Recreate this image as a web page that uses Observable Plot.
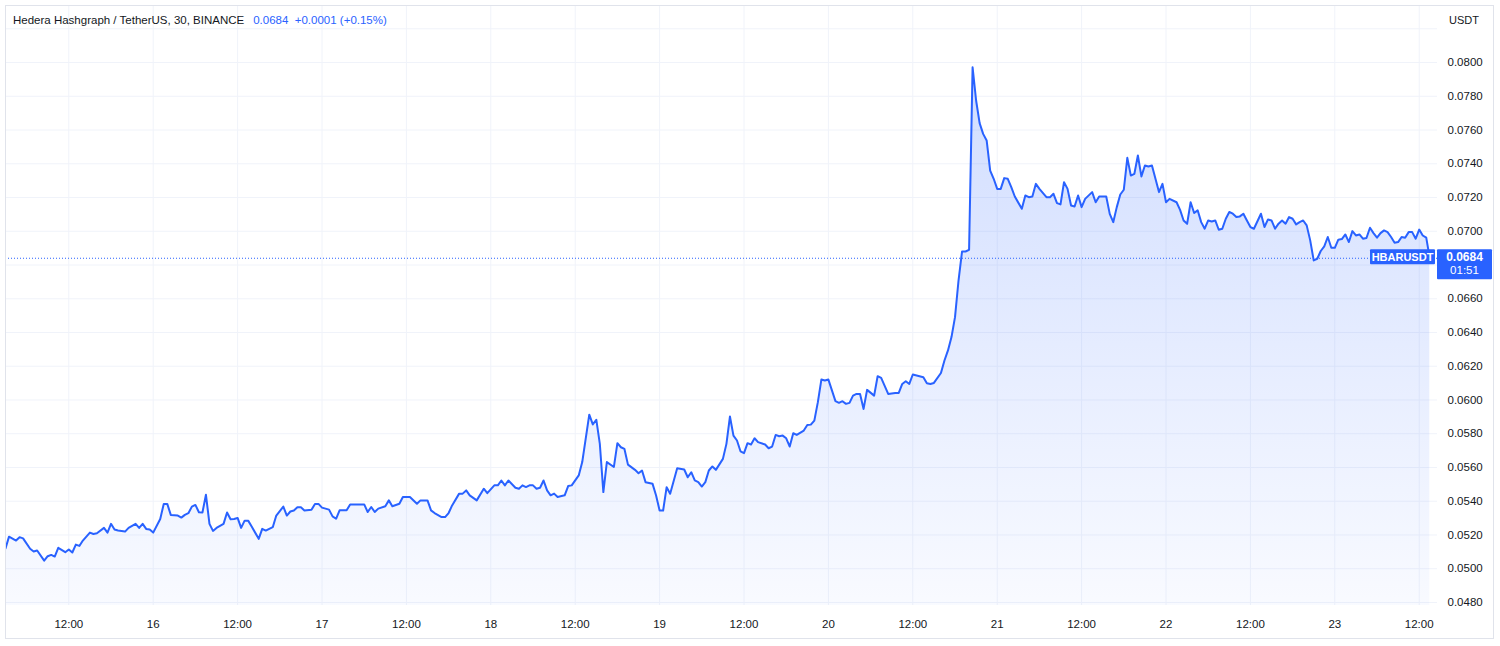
<!DOCTYPE html>
<html>
<head>
<meta charset="utf-8">
<script src="https://cdn.jsdelivr.net/npm/d3@7"></script>
<script src="https://cdn.jsdelivr.net/npm/@observablehq/plot@0.6"></script>
<style>
  html, body { margin: 0; padding: 0; background: #ffffff; }
  #wrap { position: relative; width: 1500px; height: 646px; overflow: hidden; font-family: "Liberation Sans", Arial, sans-serif; }
  #frame { position: absolute; left: 5px; top: 5px; width: 1489px; height: 634px; border: 1px solid #e0e3eb; box-sizing: border-box; pointer-events: none; }
  #title { position: absolute; left: 13px; top: 14px; font-size: 11.5px; color: #131722; white-space: nowrap; }
  #title .v { color: #2962ff; margin-left: 9px; }
  #unit { position: absolute; left: 1449px; top: 14px; font-size: 11px; color: #131722; background: #fff; padding: 0 6px 4px 0; }
</style>
</head>
<body>
<div id="wrap">
  <div id="chart"></div>
  <div id="frame"></div>
  <div id="title"></div>
  <div id="unit"></div>
</div>
<script>
// ---- data (hours after 15th 00:00 UTC, 30-minute closes) ----
const hours = [3.0,3.5,4.5,5.0,5.5,6.5,7.0,7.5,8.5,9.0,9.5,10.0,10.5,11.5,12.0,12.5,13.0,13.5,14.0,15.0,15.5,16.0,17.0,17.5,18.0,18.5,19.0,20.0,20.5,21.5,22.0,22.5,23.0,23.5,24.0,25.0,25.5,26.0,26.5,27.5,28.0,28.5,29.0,29.5,30.0,30.5,31.0,31.5,32.0,32.5,33.0,34.0,34.5,35.0,35.5,36.0,36.5,37.0,37.5,38.0,39.0,39.5,40.0,41.0,41.5,42.5,43.0,43.5,44.0,44.5,45.0,45.5,46.5,47.0,47.5,48.0,49.0,49.5,50.0,50.5,51.5,52.0,53.5,54.0,54.5,55.0,55.5,56.0,57.0,57.5,58.0,59.0,59.5,60.5,61.5,62.0,63.0,63.5,64.0,65.0,65.5,66.0,66.5,67.5,68.0,68.5,69.0,70.0,71.0,71.5,72.5,73.0,73.5,74.0,74.5,75.5,76.0,76.5,77.0,77.5,78.0,78.5,79.0,79.5,80.0,80.5,81.0,81.5,82.5,83.0,83.5,84.5,85.0,86.0,86.5,87.0,87.5,88.0,88.5,89.5,90.0,90.5,91.0,91.5,92.5,93.0,93.5,94.0,95.0,95.5,96.0,96.5,97.0,97.5,98.5,99.5,100.0,100.5,101.0,101.5,102.0,102.5,103.0,103.5,104.0,105.0,105.5,106.0,106.5,107.0,107.5,108.0,108.5,109.0,109.5,110.0,111.0,111.5,112.0,112.5,113.0,113.5,114.0,114.5,115.0,115.5,116.5,117.0,117.5,118.0,118.5,119.0,119.5,120.0,121.0,121.5,122.0,122.5,123.0,123.5,124.0,124.5,125.0,125.5,126.5,127.0,127.5,128.5,129.5,130.0,130.5,131.0,131.5,132.0,133.5,134.0,134.5,135.0,136.0,136.5,137.0,137.5,138.0,138.5,139.0,139.5,140.0,140.5,141.0,141.5,142.0,142.5,143.0,143.5,144.0,144.5,145.0,145.5,146.0,146.5,147.5,148.0,148.5,149.0,149.5,150.0,151.0,151.5,152.0,152.5,153.0,153.5,154.0,154.5,155.0,155.5,156.0,156.5,157.5,158.0,158.5,159.5,160.0,160.5,161.0,161.5,162.0,162.5,163.0,163.5,164.0,164.5,165.0,165.5,166.0,166.5,167.0,167.5,168.0,168.5,169.5,170.0,170.5,171.0,171.5,172.0,172.5,173.0,173.5,174.0,174.5,175.0,175.5,176.0,176.5,177.0,177.5,178.0,178.5,179.0,179.5,180.0,180.5,181.5,182.0,182.5,183.0,183.5,184.0,184.5,185.0,185.5,186.0,186.5,187.0,187.5,188.0,188.5,189.0,189.5,190.0,190.5,191.0,191.5,192.0,192.5,193.0,193.5,194.0,194.5,195.0,195.5,196.0,196.5,197.0,197.5,198.0,198.5,199.0,199.5,200.0,200.5,201.0,201.5,202.0,202.5,203.0,203.5,204.0,204.5,205.0,205.5];
const prices = [0.0512,0.0519,0.05167,0.05187,0.0518,0.05118,0.05102,0.05108,0.05048,0.05074,0.05082,0.05072,0.05124,0.05098,0.05114,0.05096,0.05143,0.05135,0.05167,0.05214,0.05206,0.0521,0.05242,0.05214,0.05266,0.05232,0.05226,0.0522,0.05242,0.05266,0.05242,0.05266,0.05236,0.05232,0.05214,0.05295,0.05384,0.05384,0.05319,0.05315,0.05303,0.05319,0.05329,0.05368,0.05378,0.05335,0.05333,0.05438,0.05266,0.05224,0.05242,0.05266,0.05333,0.05293,0.05295,0.05301,0.05242,0.05285,0.05285,0.0525,0.05177,0.05236,0.05226,0.05246,0.05315,0.05368,0.05315,0.05339,0.05345,0.05364,0.05364,0.05345,0.05349,0.05384,0.05384,0.05362,0.0535,0.0531,0.05296,0.05346,0.05346,0.05381,0.05381,0.05381,0.05336,0.05366,0.05336,0.05356,0.0537,0.05405,0.0537,0.05385,0.05425,0.05425,0.05385,0.05405,0.05405,0.05346,0.0533,0.05306,0.05306,0.0533,0.05375,0.05445,0.05445,0.05464,0.05435,0.05405,0.05474,0.05448,0.05494,0.05494,0.05523,0.05494,0.05523,0.0548,0.05474,0.05494,0.05484,0.05494,0.05494,0.05474,0.0548,0.05523,0.05464,0.05435,0.05445,0.05425,0.05435,0.0549,0.05494,0.05553,0.05632,0.05913,0.05855,0.05883,0.0574,0.05454,0.05632,0.05603,0.05744,0.0572,0.0571,0.05617,0.05586,0.05566,0.05582,0.05513,0.05503,0.05434,0.05345,0.05345,0.05483,0.05444,0.05596,0.05588,0.05542,0.05572,0.05523,0.05513,0.05487,0.05513,0.05582,0.05606,0.05586,0.05651,0.0574,0.05902,0.05789,0.0576,0.05696,0.05685,0.05744,0.05736,0.05773,0.0575,0.05736,0.05714,0.05724,0.05793,0.05785,0.05789,0.05773,0.05724,0.05803,0.05793,0.05819,0.05852,0.05854,0.05878,0.05987,0.06121,0.06115,0.06121,0.05993,0.05983,0.05993,0.05977,0.05983,0.06026,0.06036,0.06036,0.05947,0.0606,0.06026,0.06141,0.06131,0.06036,0.06042,0.06042,0.06095,0.06111,0.06095,0.06151,0.06135,0.06099,0.06095,0.06101,0.0616,0.06234,0.06294,0.06373,0.06491,0.06708,0.0688,0.0688,0.0689,0.07972,0.07775,0.07641,0.07577,0.07538,0.0736,0.07311,0.07251,0.07251,0.07315,0.07311,0.07261,0.07206,0.07133,0.07212,0.07202,0.07206,0.07281,0.07251,0.07202,0.07202,0.07222,0.07167,0.07159,0.07291,0.07251,0.07153,0.07147,0.07212,0.07143,0.07192,0.07232,0.07172,0.07206,0.07206,0.07103,0.07054,0.07143,0.07218,0.07246,0.07435,0.0733,0.0734,0.07449,0.07325,0.0739,0.07384,0.0739,0.07311,0.07232,0.07281,0.07172,0.07192,0.07172,0.07127,0.07064,0.07044,0.07172,0.07108,0.07124,0.07054,0.07015,0.07064,0.07058,0.07064,0.07009,0.07015,0.07074,0.07114,0.07104,0.07084,0.07088,0.07104,0.07064,0.07025,0.07015,0.07104,0.07025,0.0707,0.07064,0.07015,0.07045,0.07064,0.07045,0.07084,0.07074,0.07041,0.07054,0.07064,0.07035,0.06946,0.06827,0.06837,0.06883,0.0691,0.06966,0.06902,0.06902,0.0695,0.06954,0.06981,0.06936,0.07001,0.06975,0.06981,0.06956,0.0696,0.07021,0.06989,0.06962,0.06989,0.07005,0.06995,0.06966,0.06932,0.06936,0.06966,0.06962,0.06995,0.06995,0.06956,0.0701,0.06975,0.06962,0.0684];
const yTicks = [0.048,0.050,0.052,0.054,0.056,0.058,0.060,0.062,0.064,0.066,0.068,0.070,0.072,0.074,0.076,0.078,0.080,0.082];
// 0.0680 is hidden under the last-price tag in the reference
const yLabelTicks = [0.048,0.050,0.052,0.054,0.056,0.058,0.060,0.062,0.064,0.066,0.070,0.072,0.074,0.076,0.078,0.080];
const xTickHours = [12,24,36,48,60,72,84,96,108,120,132,144,156,168,180,192,204];
const symbolName = "Hedera Hashgraph / TetherUS, 30, BINANCE";
const lastText = "0.0684";
const changeText = "+0.0001 (+0.15%)";
const unitText = "USDT";
const tickerText = "HBARUSDT";
const countdownText = "01:51";
const lastPrice = 0.0684;
const xDomainHours = [3.0, 206.6];
const yDomain = [0.04782, 0.08338];

// ---- build ----
const base = Date.UTC(2023, 0, 15);
const H = 3600e3;
const data = hours.map((h, i) => ({t: new Date(base + h * H), p: prices[i]}));
const blue = "#2962ff";

const defs = () => {
  const d = d3.create("svg:defs");
  const g = d.append("linearGradient").attr("id", "areaGrad")
    .attr("gradientUnits", "userSpaceOnUse").attr("x1", 0).attr("x2", 0).attr("y1", 62).attr("y2", 605);
  g.append("stop").attr("offset", 0).attr("stop-color", blue).attr("stop-opacity", 0.22);
  g.append("stop").attr("offset", 1).attr("stop-color", blue).attr("stop-opacity", 0.03);
  return d.node();
};

const chart = Plot.plot({
  width: 1500,
  height: 646,
  marginLeft: 5,
  marginRight: 63,
  marginTop: 5,
  marginBottom: 41,
  style: {background: "transparent", fontFamily: "'Liberation Sans', Arial, sans-serif", fontSize: "11.5px", color: "#131722", overflow: "visible"},
  x: {type: "utc", domain: xDomainHours.map(h => new Date(base + h * H))},
  y: {domain: yDomain},
  marks: [
    defs,
    Plot.gridY(yTicks, {stroke: "#f0f3fa", strokeOpacity: 1}),
    Plot.gridX(xTickHours.map(h => new Date(base + h * H)), {stroke: "#f0f3fa", strokeOpacity: 1}),
    Plot.areaY(data, {x: "t", y1: () => yDomain[0], y2: "p", fill: "url(#areaGrad)", clip: true}),
    Plot.lineY(data, {x: "t", y: "p", stroke: blue, strokeWidth: 2, clip: true}),
    Plot.ruleY([lastPrice], {stroke: blue, strokeWidth: 1, strokeDasharray: "1,2"}),
    Plot.axisY(yLabelTicks, {anchor: "right", tickSize: 0, tickPadding: 10, tickFormat: d => d.toFixed(4), label: null, fill: "#131722"}),
    Plot.axisX(xTickHours.map(h => new Date(base + h * H)), {anchor: "bottom", tickSize: 0, tickPadding: 14, label: null, fill: "#131722",
      tickFormat: d => d.getUTCHours() === 0 ? String(d.getUTCDate()) : "12:00"})
  ]
});
document.getElementById("chart").appendChild(chart);

// title / unit
const title = document.getElementById("title");
title.innerHTML = "";
title.append(symbolName);
const v = document.createElement("span"); v.className = "v"; v.textContent = lastText + "\u00a0\u00a0" + changeText; title.appendChild(v);
document.getElementById("unit").textContent = unitText;

// price tags placed with the chart's own y scale
const yS = chart.scale("y");
const yp = yS.apply(lastPrice);
const svg = d3.select(chart);
const tag = svg.append("g").attr("font-family", "'Liberation Sans', Arial, sans-serif").attr("font-weight", "bold").attr("text-anchor", "start");
tag.append("rect").attr("x", 1370).attr("y", yp - 8.5).attr("width", 65).attr("height", 15).attr("fill", blue).attr("rx", 1);
tag.append("text").attr("x", 1402.5).attr("y", yp - 1).attr("dy", "0.35em").attr("text-anchor", "middle").attr("fill", "#fff").attr("font-size", 11).text(tickerText);
tag.append("rect").attr("x", 1437).attr("y", yp - 8.5).attr("width", 55).attr("height", 30).attr("fill", blue).attr("rx", 1);
tag.append("text").attr("x", 1464.5).attr("y", yp - 1).attr("dy", "0.35em").attr("text-anchor", "middle").attr("fill", "#fff").attr("font-size", 12).text(lastText);
tag.append("text").attr("x", 1464.5).attr("y", yp + 12.5).attr("dy", "0.35em").attr("text-anchor", "middle").attr("fill", "#fff").attr("font-size", 11.5).attr("font-weight", "normal").text(countdownText);
</script>
</body>
</html>
